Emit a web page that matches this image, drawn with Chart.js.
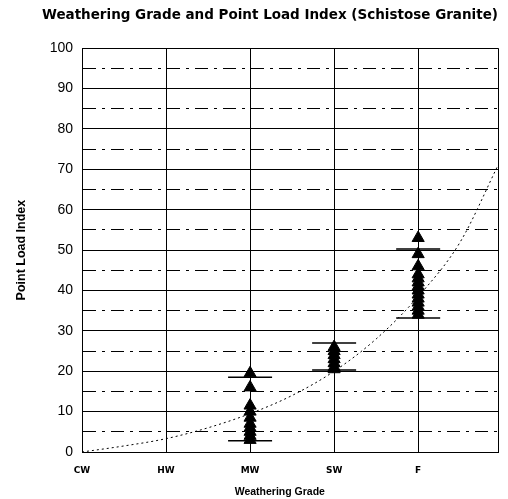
<!DOCTYPE html>
<html>
<head>
<meta charset="utf-8">
<script src="https://cdn.jsdelivr.net/npm/chart.js@4"></script>
<style>
  html, body { margin: 0; padding: 0; background: #fff; }
  #wrap { width: 508px; height: 499px; }
</style>
</head>
<body>
<div id="wrap"><canvas id="graficoMeteorizacion"></canvas></div>
<script>
const grados = ['CW', 'HW', 'MW', 'SW', 'F'];

// point load index readings per weathering grade
const valoresMW = [19.5, 16, 11.5, 10, 8.5, 7, 6, 5, 4, 3];
const valoresSW = [26, 25, 24, 23, 22, 21, 20.5];
const valoresF = [53, 49, 46, 44, 43, 42, 41, 40, 39, 38, 37, 36, 35, 34];

// upper and lower bars for each grade (MW, SW, F)
const barrasX = [2, 3, 4];
const barraAlta = [18.5, 27, 50.3];
const barraBaja = [2.8, 20.3, 33.2];

// trend curve
const tendenciaX = [0, 0.5, 1, 1.5, 2, 2.5, 3, 3.5, 4, 4.5, 4.95];
const tendenciaY = [0, 1.5, 3.3, 6, 9.5, 14, 20, 28, 38.5, 52, 71];

const puntos = (x, vals) => vals.map(v => ({ x: x, y: v }));
const fuente = "'Liberation Sans', Arial, sans-serif";
const fuenteAncha = "'DejaVu Sans', sans-serif";

const dataConfig = {
    datasets: [
        {
            label: 'MW',
            data: puntos(2, valoresMW),
            pointStyle: 'triangle',
            pointRadius: 7,
            backgroundColor: '#000',
            borderColor: '#000',
            showLine: false
        },
        {
            label: 'SW',
            data: puntos(3, valoresSW),
            pointStyle: 'triangle',
            pointRadius: 7,
            backgroundColor: '#000',
            borderColor: '#000',
            showLine: false
        },
        {
            label: 'F',
            data: puntos(4, valoresF),
            pointStyle: 'triangle',
            pointRadius: 7,
            backgroundColor: '#000',
            borderColor: '#000',
            showLine: false
        },
        {
            label: 'Barras',
            data: barrasX.map((x, i) => ({ x: x, y: barraAlta[i] }))
                .concat(barrasX.map((x, i) => ({ x: x, y: barraBaja[i] }))),
            pointStyle: 'line',
            pointRadius: 22,
            borderWidth: 1.5,
            borderColor: '#000',
            showLine: false
        },
        {
            label: 'Tendencia',
            type: 'line',
            data: tendenciaX.map((x, i) => ({ x: x, y: tendenciaY[i] })),
            borderColor: '#000',
            borderWidth: 1,
            borderDash: [2, 3],
            pointRadius: 0,
            cubicInterpolationMode: 'monotone',
            fill: false
        }
    ]
};

const config = {
    type: 'scatter',
    data: dataConfig,
    options: {
        responsive: true,
        maintainAspectRatio: false,
        animation: false,
        layout: {
            autoPadding: false,
            padding: { top: 4, right: 10, bottom: 0, left: 4 }
        },
        plugins: {
            legend: { display: false },
            tooltip: { enabled: false },
            title: {
                display: true,
                text: 'Weathering Grade and Point Load Index (Schistose Granite)',
                color: '#000',
                font: { family: fuenteAncha, size: 13.5, weight: 'bold' },
                padding: { top: 3, bottom: 25 },
                align: 'end'
            }
        },
        scales: {
            x: {
                type: 'linear',
                min: 0,
                max: 4.95,
                ticks: {
                    stepSize: 1,
                    color: '#000',
                    font: { family: fuenteAncha, size: 9, weight: 'bold' },
                    padding: 13,
                    callback: v => grados[v] || ''
                },
                grid: { color: '#000', lineWidth: 1, drawTicks: false },
                border: { color: '#000', width: 1 },
                title: {
                    display: true,
                    text: 'Weathering Grade       ',
                    color: '#000',
                    font: { family: fuente, size: 10.5, weight: 'bold' },
                    padding: { top: 11, bottom: 1 }
                },
                afterFit: s => {
                    s.height = 47;
                    s.paddingLeft = 0;
                    s.paddingRight = 0;
                }
            },
            y: {
                min: 0,
                max: 100,
                ticks: {
                    stepSize: 5,
                    color: '#000',
                    font: { family: fuente, size: 14 },
                    padding: 9,
                    callback: v => (v % 10 === 0 ? v : '')
                },
                grid: { color: '#000', lineWidth: 1, drawTicks: false },
                border: {
                    color: '#000',
                    width: 1,
                    dash: ctx => (ctx.tick && ctx.tick.value % 10 !== 0 ? [13, 6, 3, 6] : [])
                },
                title: {
                    display: true,
                    text: 'Point Load Index',
                    color: '#000',
                    font: { family: fuente, size: 12.5, weight: 'bold' },
                    padding: { top: 10, bottom: 8 }
                },
                afterFit: s => { s.width = 78; }
            }
        }
    }
};

var graficoMeteorizacion = new Chart(
    document.getElementById('graficoMeteorizacion'),
    config
);
</script>
</body>
</html>
